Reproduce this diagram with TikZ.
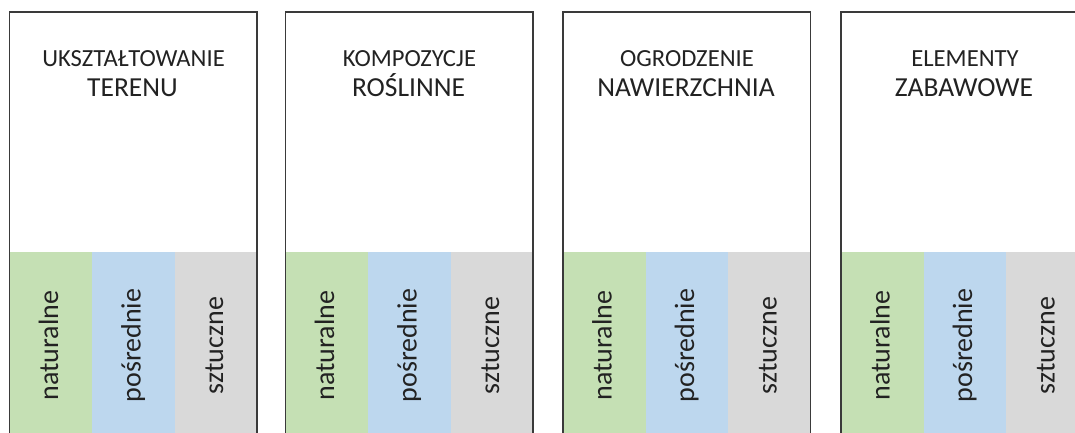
\documentclass[tikz,border=0pt]{standalone}
\usepackage{fontspec}
\setmainfont{Carlito}
\definecolor{natgreen}{HTML}{C5E0B4}
\definecolor{midblue}{HTML}{BDD7EE}
\definecolor{artgray}{HTML}{D9D9D9}
\definecolor{framec}{HTML}{3A3A3A}
\definecolor{txtc}{HTML}{222222}
\begin{document}
\begin{tikzpicture}[x=1pt,y=-1pt,
  frame/.style={draw=framec,line width=1.2pt},
  titlea/.style={anchor=base,inner sep=0pt,text=txtc,font=\fontsize{24.6}{24.6}\selectfont},
  titleb/.style={anchor=base,inner sep=0pt,text=txtc,font=\fontsize{27.5}{27.5}\selectfont},
  collabel/.style={rotate=90,anchor=base,inner sep=0pt,text=txtc,font=\fontsize{28}{28}\selectfont}]
\useasboundingbox (0,0) rectangle (1075,432);
\clip (0,0) rectangle (1075,432);
\foreach \x/\ta/\tb/\n in {9.5/UKSZTAŁTOWANIE/TERENU/a,285.5/KOMPOZYCJE/ROŚLINNE/b,563/OGRODZENIE/NAWIERZCHNIA/c,841/ELEMENTY/ZABAWOWE/d}{
  \fill[natgreen] (\x,251.5) rectangle ++(82.5,190);
  \fill[midblue] (\x+82.5,251.5) rectangle ++(82.5,190);
  \fill[artgray] (\x+165,251.5) rectangle ++(82.5,190);
  \draw[frame] (\x,440) -- (\x,12) -- (\x+247.5,12) -- (\x+247.5,440);
  \node[titlea] (t1\n) at (\x+124,66) {\ta};
  \node[titleb] (t2\n) at (\x+123,96.7) {\tb};
  \node[collabel] (l1\n) at (\x+48.5,345.5) {naturalne};
  \node[collabel] (l2\n) at (\x+131,345.5) {pośrednie};
  \node[collabel] (l3\n) at (\x+213.5,345.5) {sztuczne};
}
\end{tikzpicture}
\end{document}
